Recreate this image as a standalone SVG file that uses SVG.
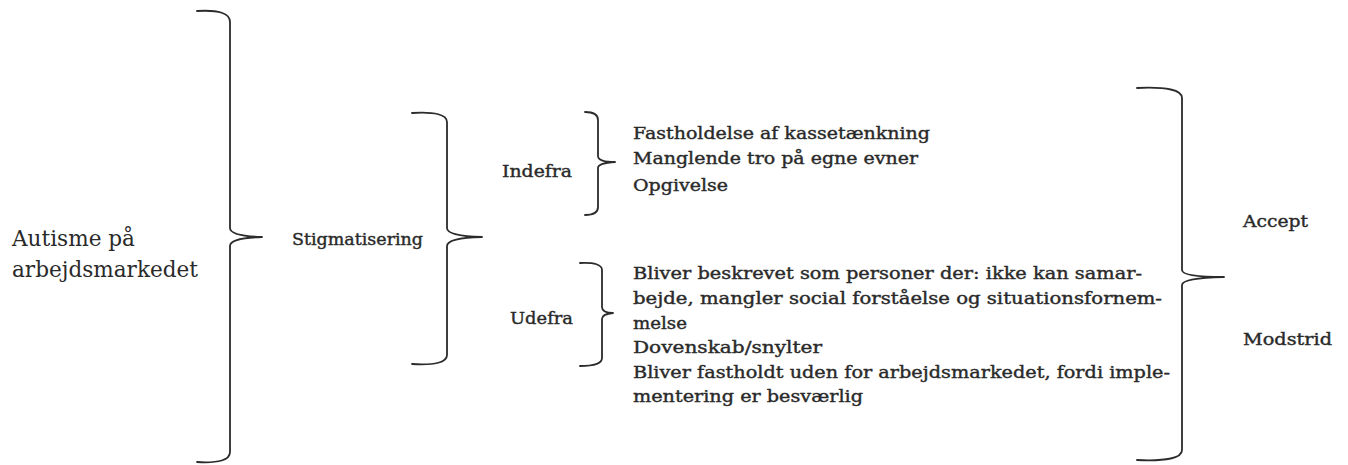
<svg xmlns="http://www.w3.org/2000/svg" width="1348" height="465" viewBox="0 0 1348 465">
<style>
.b{fill:none;stroke:#2b2b2b;stroke-width:1.8;stroke-linejoin:round;stroke-linecap:round}
.t{font-family:"DejaVu Serif","Liberation Serif",serif;fill:#2a2a2a}
.s{font-size:16.5px;stroke:#2a2a2a;stroke-width:0.4}
.l{font-size:21.5px}
</style>
<rect width="1348" height="465" fill="#fff"/>
<g id="connectors">
<path class="b" d="M197,11 Q230,9 230,22 L230,228 Q230,236 262,237 Q230,238 230,246 L230,452 Q230,464 197,462"/>
<path class="b" d="M412,113 Q447,111 447,122 L447,228 Q447,236 482,237 Q447,238 447,246 L447,355 Q447,366 412,364"/>
<path class="b" d="M585,112 Q598,112 598,120 L598,156 Q598,162 615,162 Q598,163 598,168 L598,207 Q598,215 585,215"/>
<path class="b" d="M580,263 Q602,262 602,270 L602,307 Q602,313 613,313 Q602,314 602,319 L602,358 Q602,366 580,366"/>
<path class="b" d="M1137,88 Q1182,86 1182,98 L1182,270 Q1182,277 1224,277 Q1182,278 1182,285 L1182,450 Q1182,462 1137,460"/>
</g>
<g id="root"><text class="t l" x="12" y="246" textLength="123" lengthAdjust="spacingAndGlyphs">Autisme på</text><text class="t l" x="12" y="277" textLength="186" lengthAdjust="spacingAndGlyphs">arbejdsmarkedet</text></g>
<g id="stig"><text class="t s" x="292" y="245" textLength="131" lengthAdjust="spacingAndGlyphs">Stigmatisering</text></g>
<g id="indefra"><text class="t s" x="502" y="177" textLength="70" lengthAdjust="spacingAndGlyphs">Indefra</text></g>
<g id="udefra"><text class="t s" x="510" y="324" textLength="63" lengthAdjust="spacingAndGlyphs">Udefra</text></g>
<g id="indefra-items">
<text class="t s" x="633" y="139" textLength="297" lengthAdjust="spacingAndGlyphs">Fastholdelse af kassetænkning</text>
<text class="t s" x="633" y="164" textLength="285" lengthAdjust="spacingAndGlyphs">Manglende tro på egne evner</text>
<text class="t s" x="633" y="191" textLength="95" lengthAdjust="spacingAndGlyphs">Opgivelse</text>
</g>
<g id="udefra-items">
<text class="t s" x="633" y="279" textLength="509" lengthAdjust="spacingAndGlyphs">Bliver beskrevet som personer der: ikke kan samar-</text>
<text class="t s" x="633" y="304" textLength="529" lengthAdjust="spacingAndGlyphs">bejde, mangler social forståelse og situationsfornem-</text>
<text class="t s" x="633" y="329" textLength="54" lengthAdjust="spacingAndGlyphs">melse</text>
<text class="t s" x="633" y="353" textLength="189" lengthAdjust="spacingAndGlyphs">Dovenskab/snylter</text>
<text class="t s" x="633" y="378" textLength="537" lengthAdjust="spacingAndGlyphs">Bliver fastholdt uden for arbejdsmarkedet, fordi imple-</text>
<text class="t s" x="633" y="402" textLength="230" lengthAdjust="spacingAndGlyphs">mentering er besværlig</text>
</g>
<g id="accept"><text class="t s" x="1243" y="227" textLength="65" lengthAdjust="spacingAndGlyphs">Accept</text></g>
<g id="modstrid"><text class="t s" x="1243" y="345" textLength="89" lengthAdjust="spacingAndGlyphs">Modstrid</text></g>
</svg>
